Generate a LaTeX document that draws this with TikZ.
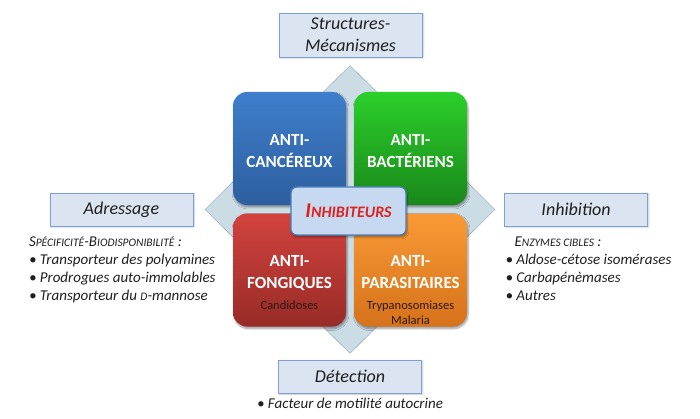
\documentclass[tikz,border=0pt]{standalone}
\usepackage{fontspec}
\setmainfont{Carlito}
\usepackage{tikz}
\usetikzlibrary{positioning,shapes.geometric,shadows.blur}
\definecolor{cLosange}{HTML}{CBDCE5}
\definecolor{cLosangeBord}{HTML}{8FA6B4}
\definecolor{cTheme}{HTML}{DBE5F1}
\definecolor{cThemeBord}{HTML}{7F9FCF}
\definecolor{cCentre}{HTML}{C6D9F1}
\definecolor{cCentreBord}{HTML}{4A7EBB}
\definecolor{cRouge}{HTML}{E0201B}
\definecolor{cTexte}{HTML}{1F1F1F}
\definecolor{cSous}{HTML}{2A1A12}
\definecolor{cBleuH}{HTML}{3E7ECB}
\definecolor{cBleuB}{HTML}{2D5F9F}
\definecolor{cVertH}{HTML}{2BCF2B}
\definecolor{cVertB}{HTML}{1A881A}
\definecolor{cRougeH}{HTML}{D2433E}
\definecolor{cRougeB}{HTML}{982B27}
\definecolor{cOrangeH}{HTML}{F99A35}
\definecolor{cOrangeB}{HTML}{D6721B}
\newcommand{\petit}[1]{{\fontsize{11.5}{13}\selectfont #1}}
\newcommand{\sous}[1]{{\color{cSous}\mdseries\fontsize{12.5}{15}\selectfont #1}}
\tikzset{
  quad/.style ={rounded corners=14pt, minimum width=113pt, minimum height=113pt, inner sep=0pt,
                blur shadow={shadow xshift=1pt, shadow yshift=-2pt, shadow blur steps=6}},
  qBleu/.style ={quad, top color=cBleuH, bottom color=cBleuB},
  qVert/.style ={quad, top color=cVertH, bottom color=cVertB},
  qRouge/.style={quad, top color=cRougeH, bottom color=cRougeB},
  qOrange/.style={quad, top color=cOrangeH, bottom color=cOrangeB},
  qtxt/.style ={align=center, inner sep=0pt, text=white, font=\bfseries\fontsize{17}{22}\selectfont},
  theme/.style={draw=cThemeBord, fill=cTheme, text=cTexte, minimum width=143pt, minimum height=33pt,
                inner sep=2pt, align=center, font=\itshape\fontsize{18}{22}\selectfont,
                blur shadow={shadow xshift=1pt, shadow yshift=-1pt, shadow blur steps=4, shadow opacity=25}},
  centre/.style={draw=cCentreBord, line width=1.2pt, fill=cCentre, rounded corners=6pt,
                minimum width=115pt, minimum height=48pt, text=cRouge,
                font=\bfseries\itshape, blur shadow={shadow xshift=1pt, shadow yshift=-2pt}},
  liste/.style={align=left, inner sep=0pt, text=cTexte, font=\itshape\fontsize{15}{18}\selectfont},
}

\begin{document}
\begin{tikzpicture}[x=1pt,y=1pt]
  \useasboundingbox (0,0) rectangle (700,418);
  \node[diamond, draw=cLosangeBord, fill=cLosange, minimum width=290pt, minimum height=288pt,
        inner sep=0pt] (losange) at (350,208.5) {};
  \node[qBleu]   (cancer)  at (289.5,269.5) {};
  \node[qVert]   (bact)    at (410.5,269.5) {};
  \node[qRouge]  (fong)    at (289.5,148) {};
  \node[qOrange] (para)    at (410.5,148) {};
  \node[qtxt, below=42pt of cancer.north] {ANTI-\\CANCÉREUX};
  \node[qtxt, below=42pt of bact.north] {ANTI-\\BACTÉRIENS};
  \node[qtxt, below=42pt of fong.north] {ANTI-\\FONGIQUES\\[-1pt]\sous{Candidoses}};
  \node[qtxt, below=42pt of para.north] {ANTI-\\PARASITAIRES\\[-1pt]\sous{Trypanosomiases}\\[-7pt]\sous{Malaria}};
  \node[centre] (inhib) at (348.5,207) {\fontsize{21}{22}\selectfont I\fontsize{16}{22}\selectfont NHIBITEURS};

  \node[theme, minimum height=44pt] (struct) at (350.5,383) {Structures-\\Mécanismes};
  \node[theme] (adr) at (121.5,208.5) {Adressage};
  \node[theme] (inh) at (576,208.5) {Inhibition};
  \node[theme] (det) at (350,41.5) {Détection};

  \node[liste, below right=10pt and -21pt of adr.south west] (adrliste)
    {S\petit{PÉCIFICITÉ}-B\petit{IODISPONIBILITÉ} :\\
     • Transporteur des polyamines\\
     • Prodrogues auto-immolables\\
     • Transporteur du \petit{D}-mannose};
  \node[liste, below right=10pt and 1pt of inh.south west] (inhliste)
    {\hspace{9pt}E\petit{NZYMES CIBLES} :\\
     • Aldose-cétose isomérases\\
     • Carbapénèmases\\
     • Autres};
  \node[liste, below=5pt of det] (detliste) {• Facteur de motilité autocrine};
\end{tikzpicture}
\end{document}
